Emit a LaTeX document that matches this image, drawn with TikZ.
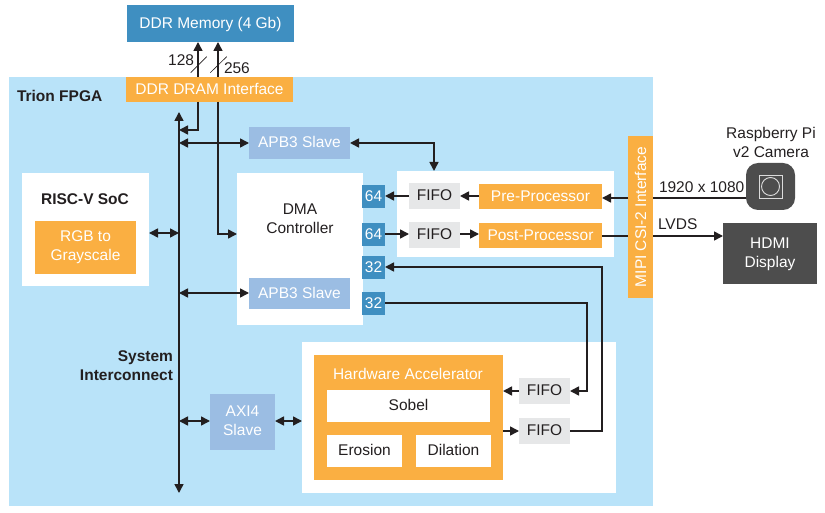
\documentclass[tikz,border=0pt]{standalone}
\usepackage{fontspec}
\setmainfont{Liberation Sans}
\usetikzlibrary{arrows.meta,calc}
\definecolor{fpga}{HTML}{B9E3F9}
\definecolor{bluebx}{HTML}{3F8FC1}
\definecolor{orangebx}{HTML}{FAAF42}
\definecolor{slavebx}{HTML}{9BBDE3}
\definecolor{fifobx}{HTML}{E6E7E8}
\definecolor{darkbx}{HTML}{4D4D4D}
\definecolor{ink}{HTML}{231F20}
\newcommand{\bx}[7][]{%
  \pgfmathsetmacro{\cxx}{(#3+#5)/2}\pgfmathsetmacro{\cyy}{(#4+#6)/2}%
  \pgfmathsetmacro{\www}{#5-#3}\pgfmathsetmacro{\hhh}{#6-#4}%
  \node[box,#1,minimum width=\www pt,minimum height=\hhh pt] (#2) at (\cxx,\cyy) {#7};}
\tikzset{
  x=1pt,y=-1pt,
  box/.style={inner sep=0pt,outer sep=0pt,draw=none,align=center,text depth=2pt,font=\fontsize{15.5}{19}\selectfont},
  whitebox/.style={fill=white,text=ink},
  orange/.style={fill=orangebx,text=white},
  slave/.style={fill=slavebx,text=white},
  fifo/.style={fill=fifobx,text=ink},
  port/.style={fill=bluebx,text=white,text depth=0pt},
  dark/.style={fill=darkbx,text=white},
  lbl/.style={inner sep=0pt,outer sep=0pt,text=ink,align=center,font=\fontsize{15.5}{19}\selectfont},
  boldlbl/.style={lbl,font=\fontsize{15.5}{19}\selectfont\bfseries},
  wire/.style={draw=ink,line width=1.6pt},
  one/.style={wire,-{Triangle[length=9pt,width=9pt]}},
  two/.style={wire,{Triangle[length=9pt,width=9pt]}-{Triangle[length=9pt,width=9pt]}},
  slash/.style={draw=ink,line width=0.6pt},
}
\begin{document}
\begin{tikzpicture}
\useasboundingbox (0,0) rectangle (825,513);
\bx[fill=fpga]{fpgabg}{9}{77}{653}{506}{}
\bx[fill=bluebx,text=white]{mem}{127}{5}{294}{42}{DDR Memory (4 Gb)}
\bx[orange]{ddr}{126}{77}{293}{102}{DDR DRAM Interface}
\bx[slave]{apbtop}{249}{127}{350}{159}{APB3 Slave}
\bx[whitebox]{socbg}{22}{173}{149}{286}{}
\bx[orange,text depth=4pt]{gray}{35}{221}{136}{274}{RGB to\\Grayscale}
\bx[whitebox]{dma}{237}{173}{363}{325}{}
\bx[slave]{apblow}{249}{278}{350}{309}{APB3 Slave}
\bx[whitebox]{procbg}{397}{171}{614}{257}{}
\bx[fifo]{fifoa}{409}{183}{460}{209}{FIFO}
\bx[fifo]{fifob}{409}{222}{460}{248}{FIFO}
\bx[orange,text depth=0.5pt]{pre}{479}{184}{602}{209}{Pre-Processor}
\bx[orange,text depth=0.5pt]{post}{479}{223}{602}{248}{Post-Processor}
\bx[port]{pa}{362}{185}{385}{208}{64}
\bx[port]{pb}{362}{223}{385}{246}{64}
\bx[port]{pc}{362}{256}{385}{279}{32}
\bx[port]{pd}{362}{292}{385}{315}{32}
\bx[orange]{mipibg}{628}{136}{653}{298}{}
\node[lbl,text=white,rotate=90] (mipi) at (640.5,217) {MIPI CSI-2 Interface};
\bx[fill=darkbx,rounded corners=12pt]{cam}{746}{163}{795}{210}{}
\node[draw=white!80!darkbx,line width=0.9pt,minimum size=23pt,inner sep=0pt] (camsq) at (cam.center) {};
\node[draw=white!80!darkbx,line width=0.9pt,circle,minimum size=18pt,inner sep=0pt] (camc) at (cam.center) {};
\bx[dark]{hdmi}{723}{223}{817}{284}{HDMI\\Display}
\bx[whitebox]{accbg}{302}{342}{616}{493}{}
\bx[orange]{acc}{314}{355}{503}{480}{}
\bx[whitebox]{sobel}{327}{390}{490}{422}{Sobel}
\bx[whitebox]{erosion}{327}{435}{402}{467}{Erosion}
\bx[whitebox]{dilation}{416}{435}{491}{467}{Dilation}
\bx[fifo]{fifoc}{519}{378}{570}{404}{FIFO}
\bx[fifo]{fifod}{519}{418}{570}{444}{FIFO}
\bx[slave]{axi}{210}{394}{275}{450}{AXI4\\Slave}
% labels
\node[boldlbl,anchor=west] (trion) at (17,96) {Trion FPGA};
\node[boldlbl] (soclbl) at (85,199) {RISC-V SoC};
\node[lbl] (dmalbl) at (300,218.5) {DMA\\Controller};
\node[lbl,text=white] (acclbl) at (408,374) {Hardware Accelerator};
\node[boldlbl,align=right,anchor=east] (syslbl) at (173,365.5) {System\\Interconnect};
\node[lbl] (pilbl) at (771,142.5) {Raspberry Pi\\v2 Camera};
\node[lbl,anchor=west] (reslbl) at (659,187) {1920 x 1080};
\node[lbl,anchor=west] (lvds) at (658,224) {LVDS};
\node[lbl,anchor=east] (w128) at (194,60) {128};
\node[lbl,anchor=west] (w256) at (224,68) {256};
% bus and connectors
\coordinate (bustop) at (179,112);
\coordinate (busbot) at (179,493);
\coordinate (x128) at (198,42);
\coordinate (x256) at (218,42);
\coordinate (rtA) at (602,267);
\coordinate (rtB) at (587,303);
\draw[two] (bustop) -- (busbot);
\draw[one] (x128 |- ddr.north) -- (x128);
\draw[one] (x256 |- ddr.north) -- (x256);
\draw[slash] (190.7,72.7) -- (206.7,56.7);
\draw[slash] (210.3,72.7) -- (226.7,56.7);
\draw[one] (x128 |- ddr.south) |- (179,130);
\draw[one] (x256 |- ddr.south) |- (dma.west |- 0,234);
\draw[two] (apbtop.west |- 0,143) -- (179,143);
\draw[two] (apbtop.east |- 0,143) -| (procbg.north -| 434,0);
\draw[two] (socbg.east |- 0,233) -- (179,233);
\draw[two] (179,293) -- (apblow.west |- 0,293);
\draw[two] (179,421) -- (axi.west |- 0,421);
\draw[two] (axi.east |- 0,421) -- (accbg.west |- 0,421);
\draw[one] (fifoa.west |- 0,196) -- (pa.east |- 0,196);
\draw[one] (pre.west |- 0,196) -- (fifoa.east |- 0,196);
\draw[one] (mipibg.west |- 0,198) -- (pre.east |- 0,198);
\draw[one] (pb.east |- 0,234) -- (fifob.west |- 0,234);
\draw[one] (fifob.east |- 0,234) -- (post.west |- 0,234);
\draw[wire] (post.east |- 0,236) -- (mipibg.west |- 0,236);
\draw[wire] (mipibg.east |- 0,198) -- (cam.west |- 0,198);
\draw[one] (mipibg.east |- 0,236) -- (hdmi.west |- 0,236);
\draw[one] (fifod.east |- 0,431) -| (rtA) -- (pc.east |- rtA);
\draw[one] (pd.east |- rtB) -| (rtB |- 0,391) -- (fifoc.east |- 0,391);
\draw[one] (fifoc.west |- 0,391) -- (acc.east |- 0,391);
\draw[one] (acc.east |- 0,431) -- (fifod.west |- 0,431);
\end{tikzpicture}
\end{document}
